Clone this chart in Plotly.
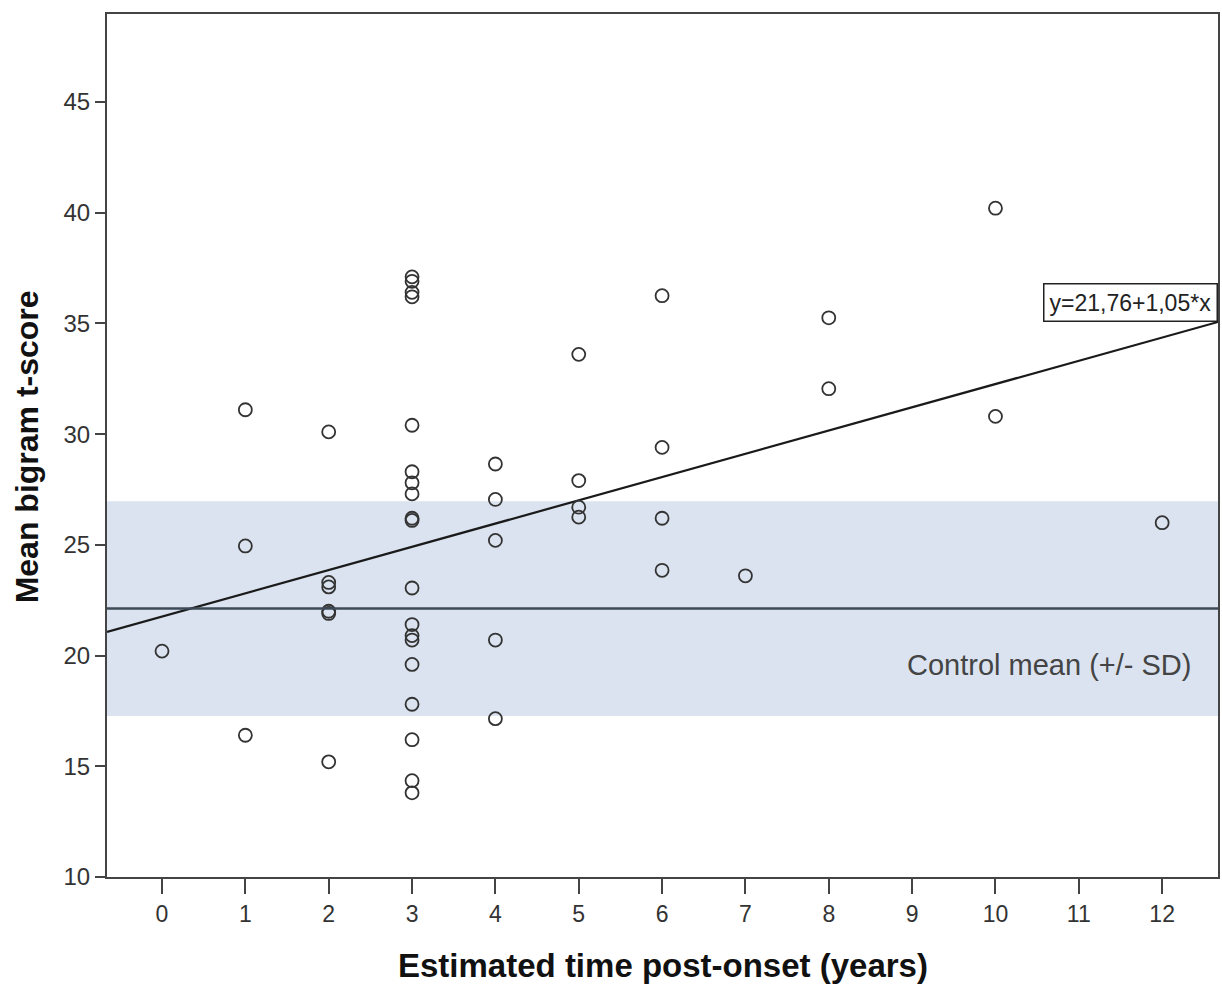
import plotly.graph_objects as go

# Data
x_years = [0,
           1, 1, 1,
           2, 2, 2, 2, 2, 2,
           3, 3, 3, 3, 3, 3, 3, 3, 3, 3, 3, 3, 3, 3, 3, 3, 3, 3, 3,
           4, 4, 4, 4, 4,
           5, 5, 5, 5,
           6, 6, 6, 6,
           7,
           8, 8,
           10, 10,
           12]
y_scores = [20.2,
            31.1, 24.95, 16.4,
            30.1, 23.3, 23.1, 22.0, 21.9, 15.2,
            37.1, 36.9, 36.4, 36.2, 30.4, 28.3, 27.8, 27.3, 26.2, 26.1,
            23.05, 21.4, 20.9, 20.7, 19.6, 17.8, 16.2, 14.35, 13.8,
            28.65, 27.05, 25.2, 20.7, 17.15,
            33.6, 27.9, 26.7, 26.25,
            36.25, 29.4, 26.2, 23.85,
            23.6,
            35.25, 32.05,
            40.2, 30.8,
            26.0]

fit_intercept = 21.76
fit_slope = 1.05
control_mean = 22.12
control_sd = 4.85

x_range = [-0.66, 12.67]
y_range = [10, 48.97]
x_ticks = list(range(0, 13))
y_ticks = [10, 15, 20, 25, 30, 35, 40, 45]

FONT = "Liberation Sans, Arial, sans-serif"

fig = go.Figure()

# control band
fig.add_shape(type="rect", xref="x", yref="y",
              x0=x_range[0], x1=x_range[1],
              y0=control_mean - control_sd, y1=control_mean + control_sd,
              fillcolor="#dae3ef", line=dict(width=0), layer="below")
# control mean line
fig.add_shape(type="line", xref="x", yref="y",
              x0=x_range[0], x1=x_range[1], y0=control_mean, y1=control_mean,
              line=dict(color="#3d4a58", width=2.5), layer="above")

# regression line
fx = [x_range[0], x_range[1]]
fy = [fit_intercept + fit_slope * v for v in fx]
fig.add_trace(go.Scatter(x=fx, y=fy, mode="lines",
                         line=dict(color="#1a1a1a", width=2.2),
                         hoverinfo="skip", showlegend=False))

# points
fig.add_trace(go.Scatter(x=x_years, y=y_scores, mode="markers",
                         marker=dict(symbol="circle-open", size=13,
                                     color="#333333", line=dict(width=1.8)),
                         showlegend=False))

fig.add_annotation(xref="paper", yref="y", x=1.0, y=fy[1],
                   xanchor="right", yanchor="bottom",
                   text="y=21,76+1,05*x", showarrow=False,
                   font=dict(family=FONT, size=23, color="#222222"),
                   bordercolor="#222222", borderwidth=1.5, borderpad=5,
                   bgcolor="white")

fig.add_annotation(xref="x", yref="y", x=12.37, y=19.57,
                   xanchor="right", yanchor="middle",
                   text="Control mean (+/- SD)", showarrow=False,
                   font=dict(family=FONT, size=29, color="#444444"))

# axis titles
fig.add_annotation(xref="paper", yref="paper", x=0.5004, y=-0.102,
                   xanchor="center", yanchor="middle", showarrow=False,
                   text="<b>Estimated time post-onset (years)</b>",
                   font=dict(family=FONT, size=33, color="#111111"))
fig.add_annotation(xref="paper", yref="paper", x=-0.0719, y=0.498,
                   xanchor="center", yanchor="middle", showarrow=False,
                   textangle=-90,
                   text="<b>Mean bigram t-score</b>",
                   font=dict(family=FONT, size=32, color="#111111"))

fig.update_layout(
    width=1222, height=985,
    margin=dict(l=107, r=2, t=14, b=108),
    paper_bgcolor="white", plot_bgcolor="white",
    font=dict(family=FONT, color="#333333"),
)
fig.update_xaxes(range=x_range, tickvals=x_ticks, ticktext=[str(v) for v in x_ticks],
                 showgrid=False, zeroline=False,
                 showline=True, mirror=True, linecolor="#444444", linewidth=2,
                 ticks="outside", ticklen=15, tickwidth=1.5, tickcolor="#444444",
                 tickfont=dict(size=23, color="#333333"))
fig.update_yaxes(range=y_range, tickvals=y_ticks, ticktext=[str(v) for v in y_ticks],
                 showgrid=False, zeroline=False,
                 showline=True, mirror=True, linecolor="#444444", linewidth=2,
                 ticks="outside", ticklen=10, tickwidth=1.5, tickcolor="#444444",
                 tickfont=dict(size=24, color="#333333"))

fig.write_html("out.html",
               config={"displayModeBar": False},
               post_script="document.body.style.margin='0';"
                           "document.documentElement.style.overflow='hidden';")
